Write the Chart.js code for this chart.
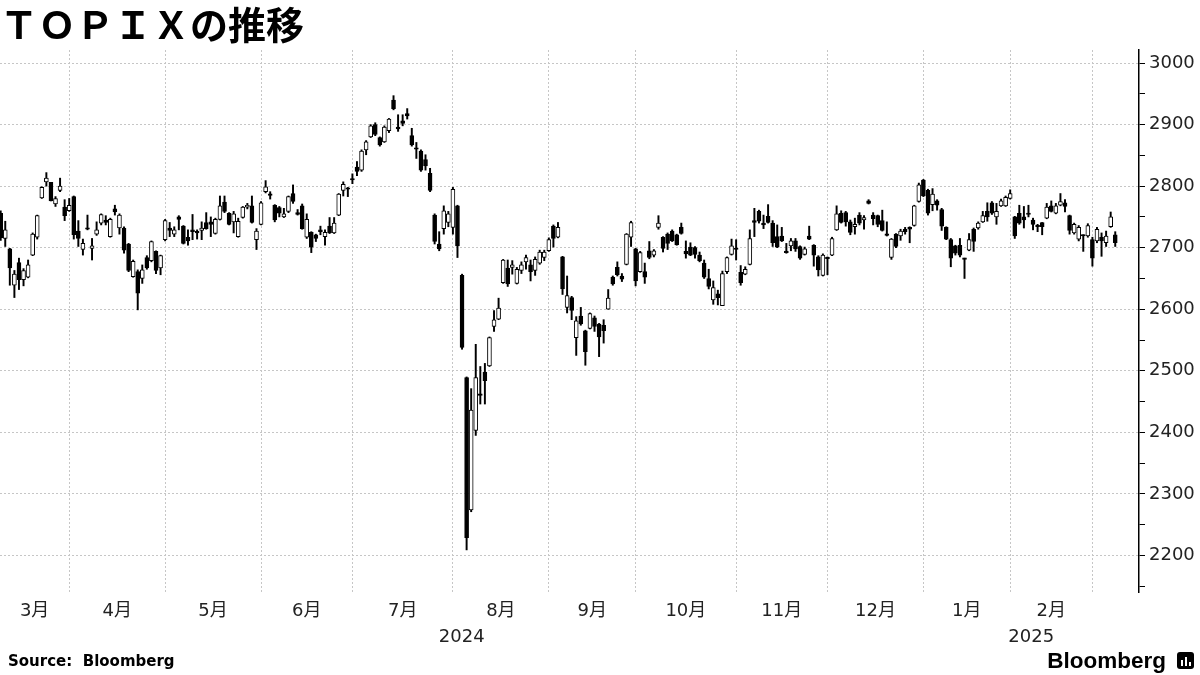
<!DOCTYPE html>
<html><head><meta charset="utf-8">
<script src="https://cdn.jsdelivr.net/npm/chart.js@4.4.1/dist/chart.umd.min.js"></script>
<style>
html,body{margin:0;padding:0;background:#fff;}
#wrap{width:1200px;height:675px;position:relative;overflow:hidden;}
#src{position:absolute;left:8px;top:652px;font:bold 15px 'DejaVu Sans',sans-serif;color:#000;white-space:pre;}
#logo{position:absolute;right:34px;top:648px;font:bold 22.5px 'Liberation Sans',sans-serif;color:#000;}
#icon{position:absolute;left:1177px;top:652px;width:17px;height:17px;background:#000;border-radius:3px;}
#icon i{position:absolute;bottom:3px;width:2px;background:#fff;}
</style>
</head><body><div id="wrap"><canvas id="c" width="1200" height="675"></canvas>
<div id="src">Source:  Bloomberg</div><div id="logo">Bloomberg</div>
<div id="icon"><i style="left:4px;height:6px"></i><i style="left:8px;height:9px"></i><i style="left:12px;height:4px"></i></div>
</div>
<script>
// Trading days (TSE)
const dates = [
'2024-03-07','2024-03-08','2024-03-11','2024-03-12','2024-03-13','2024-03-14','2024-03-15','2024-03-18','2024-03-19','2024-03-21','2024-03-22','2024-03-25','2024-03-26','2024-03-27','2024-03-28','2024-03-29',
'2024-04-01','2024-04-02','2024-04-03','2024-04-04','2024-04-05','2024-04-08','2024-04-09','2024-04-10','2024-04-11','2024-04-12','2024-04-15','2024-04-16','2024-04-17','2024-04-18','2024-04-19','2024-04-22','2024-04-23','2024-04-24','2024-04-25','2024-04-26','2024-04-30',
'2024-05-01','2024-05-02','2024-05-07','2024-05-08','2024-05-09','2024-05-10','2024-05-13','2024-05-14','2024-05-15','2024-05-16','2024-05-17','2024-05-20','2024-05-21','2024-05-22','2024-05-23','2024-05-24','2024-05-27','2024-05-28','2024-05-29','2024-05-30','2024-05-31',
'2024-06-03','2024-06-04','2024-06-05','2024-06-06','2024-06-07','2024-06-10','2024-06-11','2024-06-12','2024-06-13','2024-06-14','2024-06-17','2024-06-18','2024-06-19','2024-06-20','2024-06-21','2024-06-24','2024-06-25','2024-06-26','2024-06-27','2024-06-28',
'2024-07-01','2024-07-02','2024-07-03','2024-07-04','2024-07-05','2024-07-08','2024-07-09','2024-07-10','2024-07-11','2024-07-12','2024-07-16','2024-07-17','2024-07-18','2024-07-19','2024-07-22','2024-07-23','2024-07-24','2024-07-25','2024-07-26','2024-07-29','2024-07-30','2024-07-31',
'2024-08-01','2024-08-02','2024-08-05','2024-08-06','2024-08-07','2024-08-08','2024-08-09','2024-08-13','2024-08-14','2024-08-15','2024-08-16','2024-08-19','2024-08-20','2024-08-21','2024-08-22','2024-08-23','2024-08-26','2024-08-27','2024-08-28','2024-08-29','2024-08-30',
'2024-09-02','2024-09-03','2024-09-04','2024-09-05','2024-09-06','2024-09-09','2024-09-10','2024-09-11','2024-09-12','2024-09-13','2024-09-17','2024-09-18','2024-09-19','2024-09-20','2024-09-24','2024-09-25','2024-09-26','2024-09-27','2024-09-30',
'2024-10-01','2024-10-02','2024-10-03','2024-10-04','2024-10-07','2024-10-08','2024-10-09','2024-10-10','2024-10-11','2024-10-15','2024-10-16','2024-10-17','2024-10-18','2024-10-21','2024-10-22','2024-10-23','2024-10-24','2024-10-25','2024-10-28','2024-10-29','2024-10-30','2024-10-31',
'2024-11-01','2024-11-05','2024-11-06','2024-11-07','2024-11-08','2024-11-11','2024-11-12','2024-11-13','2024-11-14','2024-11-15','2024-11-18','2024-11-19','2024-11-20','2024-11-21','2024-11-22','2024-11-25','2024-11-26','2024-11-27','2024-11-28','2024-11-29',
'2024-12-02','2024-12-03','2024-12-04','2024-12-05','2024-12-06','2024-12-09','2024-12-10','2024-12-11','2024-12-12','2024-12-13','2024-12-16','2024-12-17','2024-12-18','2024-12-19','2024-12-20','2024-12-23','2024-12-24','2024-12-25','2024-12-26','2024-12-27','2024-12-30',
'2025-01-06','2025-01-07','2025-01-08','2025-01-09','2025-01-10','2025-01-14','2025-01-15','2025-01-16','2025-01-17','2025-01-20','2025-01-21','2025-01-22','2025-01-23','2025-01-24','2025-01-27','2025-01-28','2025-01-29','2025-01-30','2025-01-31',
'2025-02-03','2025-02-04','2025-02-05','2025-02-06','2025-02-07','2025-02-10','2025-02-12','2025-02-13','2025-02-14','2025-02-17','2025-02-18','2025-02-19','2025-02-20','2025-02-21','2025-02-25','2025-02-26','2025-02-27','2025-02-28',
'2025-03-03','2025-03-04','2025-03-05','2025-03-06','2025-03-07'
];
const open = [
2756,2715,2698,2639,2676,2648,2652,2688,2717,2781,2807,2806,2771,2793,2766,2760,
2783,2727,2697,2731,2699,2722,2740,2745,2718,2763,2732,2732,2706,2653,2661,2650,2684,2679,2694,2667,2713,
2732,2722,2750,2735,2717,2729,2724.5,2728,2741,2742,2723,2746,2774,2756,2742,2718,2749,2766,2768,2713,2738,
2791,2787,2769,2765,2750,2759,2788,2757,2768,2717,2725,2721,2729,2718,2735,2724,2753,2793,2796,2810.5,
2831,2826,2859,2880,2900,2879,2872,2890,2940,2896,2906,2918,2882,2861,2857,2843,2821,2753,2706,2731,2741,2733,
2768,2655,2489,2274,2403,2462,2498,2508,2572,2584,2643,2667,2668,2642,2663,2677,2672,2663,2675,2684,2695,
2735,2717,2685,2603,2619,2554,2589,2565,2569,2586,2576,2574,2600,2652,2668,2654,2673,2717,2698,
2661,2661,2695,2688,2733,2717,2722,2727,2721,2733,2694,2701,2700,2688,2675,2650,2615,2625,2606,2661,2689,2699,
2660,2657,2673,2744,2759,2740,2751,2740,2718,2719,2693,2703,2711,2702,2689,2719,2704,2685,2655,2684,
2688,2729,2756,2757,2742,2734,2753,2745,2776,2753,2752,2744,2721,2684,2722,2719,2730,2733,2736,2775,2810,
2793,2770,2776,2762,2733,2713,2703,2704,2682,2696,2730,2732,2742,2759,2773,2750,2768,2768,2780,
2750,2756,2750,2754.5,2745,2734.5,2741,2748,2768,2756,2769,2773,2752,2724,2714,2719.5,2719,2713,
2711,2717,2708,2734,2721
];
const high = [
2760,2743,2699,2663,2683,2666,2680,2724,2753,2799,2822,2806,2783,2813,2778,2780,
2784,2744,2714,2753,2715,2742,2755,2752,2748,2769,2755,2734,2707,2680,2664,2672,2687,2711,2695,2688,2746,
2741,2734,2752,2736,2729,2754,2729,2742,2757,2750,2748,2784,2784,2757,2759,2748,2767,2772,2784,2731,2775,
2809,2791,2770,2767,2764,2784,2802,2762,2771,2755,2726,2722,2735,2729,2749,2749,2788,2807,2798,2820,
2840,2859,2874,2900,2903,2880,2898,2910,2947,2916,2916,2926,2894,2871,2859,2851,2829,2755,2726,2768,2759,2798,
2769,2657,2490,2471,2543,2507,2512,2555,2598,2618,2681,2680,2679,2668,2677,2688,2680,2685,2696,2696,2716,
2737,2741,2686,2654,2621,2588,2603,2566,2594,2589,2577,2583,2632,2654,2677,2658,2723,2743,2699,
2694,2675,2710,2697,2752,2718,2724,2729,2722,2740,2711,2708,2702,2693,2680,2665,2646,2631,2662,2685,2714,2713,
2671,2669,2729,2764,2761,2753,2770,2744,2737,2733,2707,2715,2715,2703,2701,2735,2705,2687,2690,2685,
2717,2768,2760,2759,2745,2748,2757,2752,2778,2757,2753,2761,2742,2715,2723,2730,2733,2734,2769,2805,2811,
2795,2796,2778,2764,2734,2715,2704,2715,2683,2723,2732,2742,2759,2773,2775,2772,2779,2784,2794,
2751,2769,2767,2769,2748,2738,2741,2772,2776,2772,2788,2778,2753,2740,2736,2721,2739,2717,
2733,2724,2727,2758,2726
];
const low = [
2712,2702,2639,2619,2632,2638,2651,2687,2714,2780,2800,2776,2767,2791,2744,2759,
2714,2702,2688,2729,2680,2720,2737,2737,2717,2753,2722,2691,2661,2652,2599,2642,2665,2677,2658,2656,2711,
2718,2718,2729,2706,2704,2713,2714,2713,2730,2718,2722,2745,2757,2737,2724,2717,2748,2763,2740,2697,2737,
2789,2779,2742,2750,2749,2757,2772,2753,2730,2715,2692,2710,2721,2704,2723,2723,2752,2784,2783,2804,
2817,2824,2851,2879,2882,2865,2871,2887,2924,2889,2898,2909,2865,2845,2824,2826,2791,2706,2695,2722,2734,2722,
2684,2535,2209,2271,2395,2446,2446,2507,2564,2583,2642,2637,2657,2641,2658,2665,2646,2655,2673,2679,2694,
2701,2716,2624,2594,2583,2525,2574,2509,2568,2564,2523,2545,2600,2639,2654,2645,2672,2702,2638,
2660,2642,2682,2685,2730,2693,2697,2710,2704,2722,2683,2687,2683,2677,2650,2633,2608,2607,2606,2658,2688,2680,
2639,2656,2672,2718,2740,2731,2740,2702,2700,2710,2691,2695,2694,2681,2688,2713,2670,2654,2654,2656,
2687,2728,2740,2735,2721,2722,2737,2730,2771,2737,2734,2727,2719,2681,2700,2712,2722,2708,2735,2774,2783,
2753,2760,2761,2728,2713,2669,2688,2685,2650,2695,2694,2730,2741,2743,2754,2738,2767,2767,2779,
2715,2738,2732,2750,2729,2726,2721,2747,2758,2755,2768,2758,2722,2722,2711,2694,2717,2670,
2708,2686,2702,2733,2702
];
const close = [
2716,2729,2667,2657,2648,2663,2672,2722,2752,2798,2813,2776,2780,2800,2752,2769,
2721,2715,2707,2730,2703,2729,2754,2741,2746,2758,2753,2696,2663,2678,2626,2664,2667,2710,2663,2687,2744,
2728,2729,2746,2707,2711,2726,2724,2732,2731,2738,2746,2768,2759,2738,2755,2743,2766,2769,2741,2727,2773,
2799,2785,2745,2756,2755,2783,2775,2754,2731,2746,2701,2715,2726,2725,2724,2740,2787,2803,2795,2810,
2824,2857,2872,2898,2884,2867,2896,2909,2926,2893,2902,2914,2867,2860,2826,2833,2793,2710,2698,2760,2755,2795,
2703,2538,2229,2436,2489,2460,2484,2554,2583,2602,2680,2641,2672,2665,2672,2684,2661,2681,2693,2693,2713,
2715,2733,2633,2622,2598,2581,2576,2531,2593,2572,2555,2565,2618,2641,2656,2649,2722,2741,2646,
2692,2652,2684,2695,2740,2699,2707,2711,2705,2723,2690,2688,2689,2679,2652,2637,2635,2619,2658,2684,2703,2697,
2643,2665,2715,2741,2743,2737,2741,2708,2701,2711,2692,2711,2698,2683,2698,2714,2688,2664,2688,2682,
2715,2755,2741,2742,2725,2738,2740,2749,2772,2747,2738,2728,2720,2714,2702,2727,2726,2730,2768,2802,2784,
2756,2787,2769,2735,2714,2683,2691,2688,2681,2713,2710,2740,2752,2750,2756,2759,2776,2782,2788,
2719,2740,2745,2754,2738,2734,2734,2766,2759,2768,2775,2767,2728,2738,2733,2719,2736,2683,
2730,2711,2719,2750,2708
];
const monthLabels = ['3月','4月','5月','6月','7月','8月','9月','10月','11月','12月','1月','2月'];
const yearLabels = ['2024','2025'];
const yTickLabels = [2200,2300,2400,2500,2600,2700,2800,2900,3000];
const yMinorTicks = [2150,2250,2350,2450,2550,2650,2750,2850,2950];

// axis range (index units / value units)
const xMin = -0.15, xMax = 249.2;
const yMin = 2140.6, yMax = 3021.2;

// month boundaries = last trading day of each month
const monthEnds = [];
for (let i = 0; i < dates.length - 1; i++) {
  if (dates[i].slice(0,7) !== dates[i+1].slice(0,7)) monthEnds.push(i);
}
const monthMid = monthLabels.map((l, k) => ((k === 0 ? xMin : monthEnds[k-1]) + monthEnds[k]) / 2);
let lastOf2024 = 0;
dates.forEach((d, i) => { if (d.startsWith('2024')) lastOf2024 = i; });
const yearMid = [(xMin + lastOf2024) / 2, (lastOf2024 + xMax) / 2];
const allYTicks = yTickLabels.concat(yMinorTicks).sort((a,b)=>a-b);

const wickData = dates.map((d, i) => ({x: i, y: [low[i], high[i]]}));
const bodyData = dates.map((d, i) => ({x: i, y: [Math.min(open[i], close[i]), Math.max(open[i], close[i])]}));

Chart.defaults.font.family = "'DejaVu Sans', 'Noto Sans CJK JP', sans-serif";
const gridGray = '#c6c6c6';

new Chart(document.getElementById('c'), {
  type: 'bar',
  data: {
    datasets: [
      {label: 'wick', data: wickData, backgroundColor: '#000', borderWidth: 0, barThickness: 1.3, grouped: false, order: 2},
      {label: 'body', data: bodyData,
       backgroundColor: c => close[c.dataIndex] >= open[c.dataIndex] ? '#fff' : '#000',
       borderColor: '#000', borderWidth: 1, borderSkipped: false, barThickness: 4, minBarLength: 1.5, grouped: false, order: 1}
    ]
  },
  options: {
    responsive: false, animation: false, events: [],
    layout: {padding: {left: 0, right: 0, top: 0, bottom: 31}},
    plugins: {
      legend: {display: false},
      tooltip: {enabled: false},
      title: {display: true, text: 'ＴＯＰＩＸの推移', align: 'start', color: '#000',
              font: {family: "'Noto Sans CJK JP', sans-serif", size: 38, weight: 'bold', lineHeight: 1.2},
              padding: {top: 2, bottom: 2.4}}
    },
    scales: {
      x: {type: 'linear', axis: 'x', position: 'bottom', min: xMin, max: xMax, offset: false, weight: 0,
          afterBuildTicks: a => { a.ticks = monthEnds.map(v => ({value: v})); },
          ticks: {display: false},
          grid: {color: gridGray, lineWidth: 1, drawTicks: false, offset: false},
          border: {display: false, dash: [2, 2]},
          afterFit: s => { s.height = 0; }},
      xm: {type: 'linear', axis: 'x', position: 'bottom', min: xMin, max: xMax, offset: false, weight: 1,
           afterBuildTicks: a => { a.ticks = monthMid.map(v => ({value: v})); },
           ticks: {callback: (v, i) => monthLabels[i], autoSkip: false, maxRotation: 0, padding: 1, color: '#222', font: {size: 18}},
           grid: {display: false}, border: {display: false},
           afterFit: s => { s.height = 26; }},
      xy: {type: 'linear', axis: 'x', position: 'bottom', min: xMin, max: xMax, offset: false, weight: 2,
           afterBuildTicks: a => { a.ticks = yearMid.map(v => ({value: v})); },
           ticks: {callback: (v, i) => yearLabels[i], autoSkip: false, maxRotation: 0, padding: 1, color: '#222', font: {size: 18}},
           grid: {display: false}, border: {display: false},
           afterFit: s => { s.height = 26; }},
      y: {type: 'linear', position: 'right', min: yMin, max: yMax,
          afterBuildTicks: a => { a.ticks = allYTicks.map(v => ({value: v})); },
          ticks: {callback: v => yTickLabels.includes(v) ? String(v) : '', autoSkip: false, padding: 4, color: '#222', font: {size: 18}},
          grid: {color: c => (c.tick && yTickLabels.includes(c.tick.value)) ? gridGray : 'rgba(0,0,0,0)',
                 tickColor: '#000', tickLength: 6, tickWidth: 1, drawTicks: true},
          border: {display: true, color: '#000', width: 1.5, dash: [2, 2]},
          afterFit: s => { s.width = 61; }}
    }
  }
});
</script>
</body></html>
